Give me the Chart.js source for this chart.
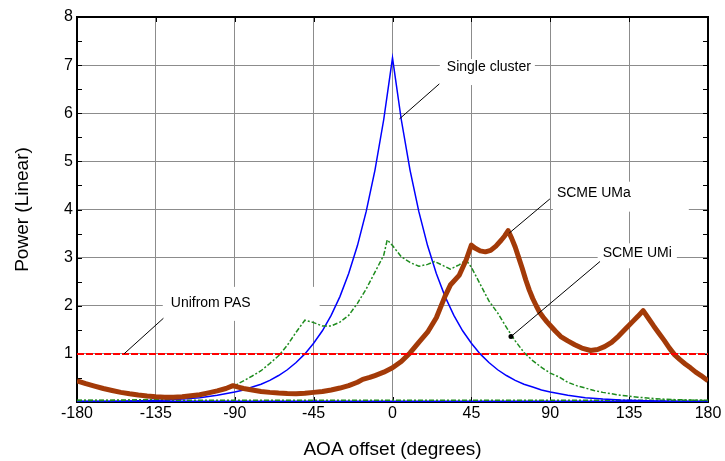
<!DOCTYPE html>
<html>
<head>
<meta charset="utf-8">
<script src="https://cdn.jsdelivr.net/npm/chart.js@4"></script>
<style>body{margin:0;background:#fff}</style>
</head>
<body>
<canvas id="pas-chart" width="725" height="461"></canvas>
<script>
var xTicks = [-180, -135, -90, -45, 0, 45, 90, 135, 180];

// single cluster (blue)
var clusterDeg = [-180, -170, -160, -150, -140, -130, -120, -110, -100, -90, -85, -80, -75, -70, -65, -60, -55, -50, -45, -40, -35, -30, -25, -20, -15, -10, -5, 0,
                  5, 10, 15, 20, 25, 30, 35, 40, 45, 50, 55, 60, 65, 70, 75, 80, 85, 90, 100, 110, 120, 130, 140, 150, 160, 170, 180];
var clusterVal = [0.01, 0.01, 0.01, 0.02, 0.03, 0.04, 0.06, 0.09, 0.14, 0.21, 0.25, 0.31, 0.37, 0.45, 0.55, 0.67, 0.82, 1.00, 1.22, 1.48, 1.80, 2.19, 2.67, 3.25, 3.96, 4.82, 5.87, 7.15,
                  5.87, 4.82, 3.96, 3.25, 2.67, 2.19, 1.80, 1.48, 1.22, 1.00, 0.82, 0.67, 0.55, 0.45, 0.37, 0.31, 0.25, 0.21, 0.14, 0.09, 0.06, 0.04, 0.03, 0.02, 0.01, 0.01, 0.01];

// SCME UMa (brown)
var umaDeg = [-180, -175, -170, -165, -160, -155, -150, -145, -140, -135, -130, -125, -120, -115, -110, -105, -100, -95, -91, -88, -85, -80, -75, -70, -65, -60, -55, -50,
              -45, -40, -35, -30, -25, -20, -17, -13, -10, -5, 0, 5, 10, 15, 20, 25, 30, 33, 38, 42, 45, 47, 50, 53, 56, 59, 62, 64, 66,
              68, 70, 72, 74, 76, 78, 80, 82, 84, 86, 88, 90, 93, 96, 100, 104, 108, 113, 117, 121, 125, 129, 133, 137, 140, 143,
              146, 149, 152, 155, 158, 161, 164, 167, 170, 173, 176, 180];
var umaVal = [0.44, 0.38, 0.33, 0.28, 0.24, 0.20, 0.17, 0.145, 0.125, 0.11, 0.10, 0.10, 0.11, 0.13, 0.15, 0.19, 0.23, 0.28, 0.34, 0.31, 0.28, 0.25, 0.22, 0.20, 0.185, 0.175, 0.17, 0.18,
              0.20, 0.22, 0.25, 0.29, 0.34, 0.41, 0.47, 0.51, 0.55, 0.62, 0.71, 0.84, 1.02, 1.24, 1.45, 1.75, 2.20, 2.43, 2.63, 2.95, 3.26, 3.20, 3.14, 3.12, 3.15, 3.24, 3.36, 3.45, 3.56,
              3.40, 3.22, 3.00, 2.78, 2.54, 2.33, 2.15, 2.00, 1.86, 1.76, 1.67, 1.59, 1.47, 1.36, 1.27, 1.19, 1.12, 1.07, 1.09, 1.15, 1.24, 1.37, 1.52, 1.67, 1.78, 1.90,
              1.74, 1.58, 1.43, 1.28, 1.12, 0.98, 0.88, 0.79, 0.71, 0.62, 0.55, 0.44];

// SCME UMi (green)
var umiDeg = [-180, -165, -150, -140, -130, -120, -110, -100, -90, -85, -80, -75, -70, -65, -60, -55, -50, -45, -40, -35, -30, -25, -20, -15, -10, -5, -3, 0,
              5, 10, 15, 20, 24, 28, 33, 38, 42, 45, 50, 55, 60, 65, 70, 75, 80, 85, 90, 95, 100, 105, 110, 115, 120, 130, 140, 150, 160, 170, 180];
var umiVal = [0.03, 0.03, 0.04, 0.05, 0.06, 0.08, 0.13, 0.22, 0.34, 0.44, 0.54, 0.65, 0.80, 0.96, 1.18, 1.45, 1.70, 1.65, 1.58, 1.58, 1.66, 1.80, 2.05, 2.35, 2.70, 3.05, 3.37, 3.25,
              3.02, 2.90, 2.82, 2.86, 2.92, 2.85, 2.76, 2.85, 2.95, 2.80, 2.45, 2.10, 1.85, 1.55, 1.27, 1.03, 0.86, 0.72, 0.60, 0.52, 0.41, 0.34, 0.29, 0.24, 0.20, 0.14, 0.10, 0.07, 0.05, 0.04, 0.03];

// uniform PAS (red) and the two flat traces on the floor
var flatDeg = [-180, 180];
var uniformVal = [1, 1];
var floorGreenVal = [0.035, 0.035];
var floorBlueVal = [0.01, 0.01];

var notes = [
    {text: "Single cluster", tx: 31.0, ty: 6.96, from: [26.7, 6.61], to: [3.9, 5.88], dot: false, pad: [7, 4, 1, 11]},
    {text: "SCME UMa", tx: 93.8, ty: 4.35, from: [89.8, 4.22], to: [66.6, 3.51], dot: false, pad: [4, 58, 4, 12]},
    {text: "SCME UMi", tx: 119.9, ty: 3.09, from: [118.4, 2.92], to: [67.6, 1.36], dot: true, pad: [5, 5, 3, 8]},
    {text: "Unifrom PAS", tx: -126.5, ty: 2.06, from: [-130.7, 1.74], to: [-153.2, 1.0], dot: false, pad: [8, 69, 9, 11]}
];

var fontName = "'Liberation Sans', Arial, sans-serif";

function pts(xs, ys) {
    return xs.map(function(x, i) { return {x: x, y: ys[i]}; });
}

var framePlugin = {
    id: "frame",
    beforeDatasetsDraw: function(chart) {
        var ctx = chart.ctx, a = chart.chartArea, xs = chart.scales.x, ys = chart.scales.y;
        ctx.save();
        // white boxes behind the labels
        ctx.font = "14px " + fontName;
        ctx.fillStyle = "#fff";
        notes.forEach(function(n) {
            var w = ctx.measureText(n.text).width;
            var x = xs.getPixelForValue(n.tx), y = ys.getPixelForValue(n.ty);
            ctx.fillRect(x - n.pad[0], y - 7 - n.pad[2], w + n.pad[0] + n.pad[1], 14 + n.pad[2] + n.pad[3]);
        });
        ctx.strokeStyle = "#000";
        ctx.lineWidth = 2;
        ctx.strokeRect(a.left, a.top, a.right - a.left, a.bottom - a.top);
        ctx.lineWidth = 1;
        ctx.beginPath();
        xTicks.forEach(function(v) {
            var px = Math.round(xs.getPixelForValue(v)) + 0.5;
            ctx.moveTo(px, a.top); ctx.lineTo(px, a.top + 5);
            ctx.moveTo(px, a.bottom); ctx.lineTo(px, a.bottom - 5);
        });
        for (var v = 0; v <= 8; v += 0.5) {
            var py = Math.round(ys.getPixelForValue(v)) + 0.5;
            ctx.moveTo(a.left, py); ctx.lineTo(a.left + 5, py);
            ctx.moveTo(a.right, py); ctx.lineTo(a.right - 5, py);
        }
        ctx.stroke();
        ctx.restore();
    },
    afterDatasetsDraw: function(chart) {
        var ctx = chart.ctx, xs = chart.scales.x, ys = chart.scales.y;
        ctx.save();
        ctx.strokeStyle = "#000";
        ctx.fillStyle = "#000";
        ctx.lineWidth = 1;
        ctx.font = "14px " + fontName;
        ctx.textBaseline = "middle";
        ctx.textAlign = "left";
        notes.forEach(function(n) {
            var x1 = xs.getPixelForValue(n.from[0]), y1 = ys.getPixelForValue(n.from[1]);
            var x2 = xs.getPixelForValue(n.to[0]), y2 = ys.getPixelForValue(n.to[1]);
            ctx.beginPath();
            ctx.moveTo(x1, y1);
            ctx.lineTo(x2, y2);
            ctx.stroke();
            if (n.dot) {
                ctx.beginPath();
                ctx.arc(x2, y2, 2.5, 0, Math.PI * 2);
                ctx.fill();
            }
            ctx.fillText(n.text, xs.getPixelForValue(n.tx), ys.getPixelForValue(n.ty));
        });
        ctx.restore();
    }
};

var ctx = document.getElementById("pas-chart").getContext("2d");
var chart = new Chart(ctx, {
    type: "line",
    data: {
        datasets: [
            {
                label: "Unifrom PAS",
                data: pts(flatDeg, uniformVal),
                borderColor: "#ff0000",
                borderWidth: 2,
                borderDash: [7, 2]
            },
            {
                label: "SCME UMa",
                data: pts(umaDeg, umaVal),
                borderColor: "#a33a08",
                borderWidth: 5,
                borderJoinStyle: "round"
            },
            {
                label: "SCME UMi",
                data: pts(umiDeg, umiVal),
                borderColor: "#1e8c1e",
                borderWidth: 1.5,
                borderDash: [5, 2, 2, 2]
            },
            {
                label: "Single cluster",
                data: pts(clusterDeg, clusterVal),
                borderColor: "#0000ff",
                borderWidth: 1.5
            },
            {
                label: "floor green",
                data: pts(flatDeg, floorGreenVal),
                borderColor: "#1e8c1e",
                borderWidth: 1.5,
                borderDash: [5, 2, 2, 2]
            },
            {
                label: "floor blue",
                data: pts(flatDeg, floorBlueVal),
                borderColor: "#0000ff",
                borderWidth: 2
            }
        ]
    },
    options: {
        responsive: false,
        animation: false,
        elements: {
            point: {radius: 0},
            line: {tension: 0, fill: false}
        },
        layout: {padding: {top: 17, right: 17, left: 0, bottom: 0}},
        plugins: {
            legend: {display: false},
            tooltip: {enabled: false}
        },
        scales: {
            x: {
                type: "linear",
                min: -180,
                max: 180,
                afterFit: function(scale) { scale.height = 59; },
                afterBuildTicks: function(scale) {
                    scale.ticks = xTicks.map(function(v) { return {value: v}; });
                },
                ticks: {
                    color: "#000",
                    padding: 2,
                    maxRotation: 0,
                    font: {family: fontName, size: 16}
                },
                grid: {color: "#8c8c8c", lineWidth: 1, drawTicks: false},
                border: {display: true, color: "#000", width: 2},
                title: {
                    display: true,
                    text: "AOA offset (degrees)",
                    color: "#000",
                    padding: 0,
                    font: {family: fontName, size: 19}
                }
            },
            y: {
                min: 0,
                max: 8,
                afterFit: function(scale) { scale.width = 77; },
                ticks: {
                    stepSize: 1,
                    color: "#000",
                    padding: 4,
                    font: {family: fontName, size: 16},
                    callback: function(v) { return v === 0 ? "" : v; }
                },
                grid: {color: "#8c8c8c", lineWidth: 1, drawTicks: false},
                border: {display: true, color: "#000", width: 2},
                title: {
                    display: true,
                    text: "Power (Linear)",
                    color: "#000",
                    padding: {top: 11, bottom: 0},
                    font: {family: fontName, size: 19}
                }
            }
        }
    },
    plugins: [framePlugin]
});
</script>
</body>
</html>
